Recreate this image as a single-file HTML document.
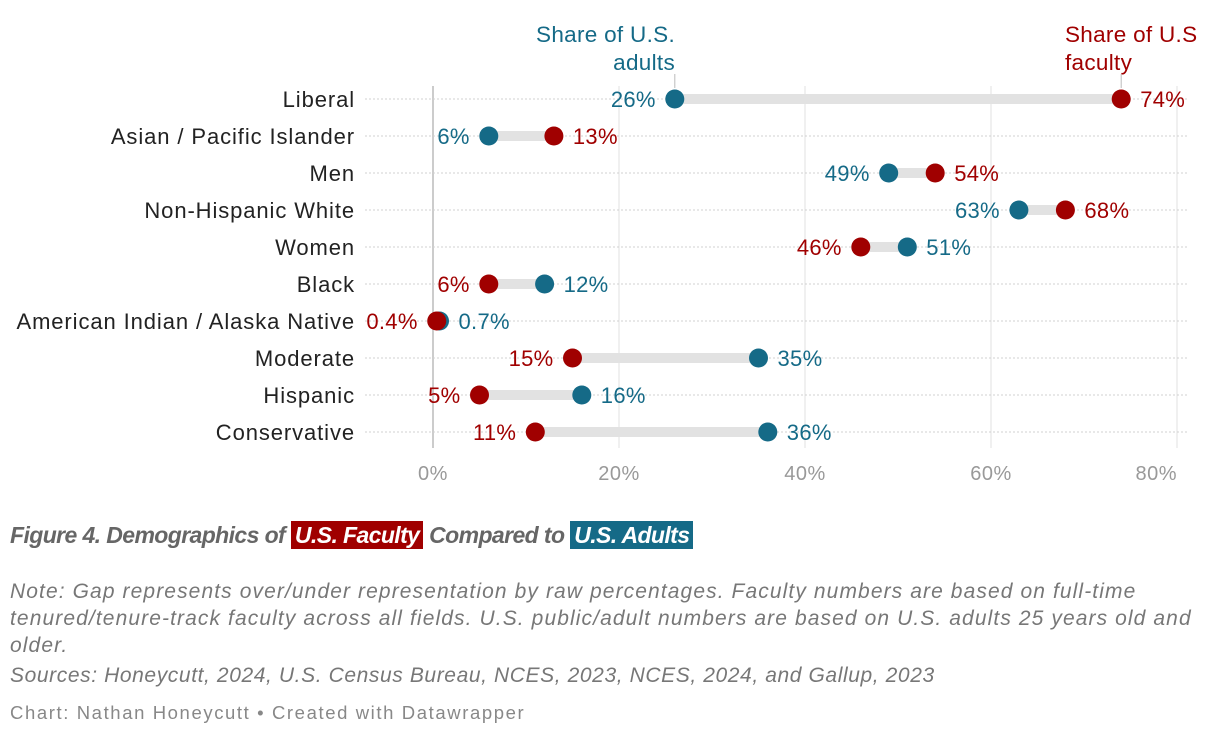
<!DOCTYPE html>
<html><head><meta charset="utf-8"><style>
body{margin:0;background:#fff;width:1220px;height:736px;overflow:hidden;font-family:"Liberation Sans",sans-serif}
.cap{position:absolute;left:10px;top:522px;font-family:"Liberation Sans Narrow","Liberation Sans",sans-serif;font-style:italic;font-weight:bold;font-size:23px;color:#666;letter-spacing:-0.6px}
.cap span{color:#fff;padding:1px 4px}
.note{position:absolute;left:10px;top:578px;width:1210px;font-style:italic;font-size:21px;line-height:27px;color:#777;letter-spacing:1.1px;white-space:nowrap}
.src{display:block;margin-top:3px;letter-spacing:0.6px}
.credit{position:absolute;left:10px;top:702px;font-size:18.5px;color:#888;letter-spacing:1.6px}
</style></head><body>
<svg id="chart" width="1220" height="500" style="position:absolute;left:0;top:0" font-family="Liberation Sans, sans-serif"></svg>
<div class="cap">Figure 4. Demographics of <span style="background:#a00000">U.S. Faculty</span> Compared to <span style="background:#156a87">U.S. Adults</span></div>
<div class="note">Note: Gap represents over/under representation by raw percentages. Faculty numbers are based on full-time<br>tenured/tenure-track faculty across all fields. U.S. public/adult numbers are based on U.S. adults 25 years old and<br>older.<span class="src">Sources: Honeycutt, 2024, U.S. Census Bureau, NCES, 2023, NCES, 2024, and Gallup, 2023</span></div>
<div class="credit">Chart: Nathan Honeycutt • Created with Datawrapper</div>
<script>
const categories=["Liberal","Asian / Pacific Islander","Men","Non-Hispanic White","Women","Black","American Indian / Alaska Native","Moderate","Hispanic","Conservative"];
const adults=[26,6,49,63,51,12,0.7,35,16,36];
const faculty=[74,13,54,68,46,6,0.4,15,5,11];
const adultLabels=["26%","6%","49%","63%","51%","12%","0.7%","35%","16%","36%"];
const facultyLabels=["74%","13%","54%","68%","46%","6%","0.4%","15%","5%","11%"];
const ticks=[0,20,40,60,80];
const tickLabels=["0%","20%","40%","60%","80%"];
const RED="#a00000",BLUE="#156a87";
const x=v=>433+v*9.3;
const y=i=>99+i*37;
const svg=document.getElementById('chart');
const NS="http://www.w3.org/2000/svg";
function mk(t,a,txt){const e=document.createElementNS(NS,t);for(const k in a)e.setAttribute(k,a[k]);if(txt!=null)e.textContent=txt;svg.appendChild(e);return e;}
ticks.forEach((t,i)=>{
 let l=mk('line',{x1:x(t),x2:x(t),y1:86,y2:448,stroke:t===0?'#bbb':'#e0e0e0','stroke-width':t===0?1.5:1});
 
 
 const last=i===ticks.length-1;
 let tx=mk('text',{x:x(t),y:480,'text-anchor':last?'end':'middle','font-size':20,fill:'#999','letter-spacing':0.5},tickLabels[i]);
 
 
});
categories.forEach((c,i)=>{
 const yy=y(i);
 let g=mk('line',{x1:365,x2:1188,y1:yy,y2:yy,stroke:'#d0d0d0','stroke-dasharray':'2,2'});
 
 
 let lab=mk('text',{x:355,y:yy+8,'text-anchor':'end','font-size':22,fill:'#222','letter-spacing':0.9},c);
 
 
 let bar=mk('line',{x1:x(adults[i]),x2:x(faculty[i]),y1:yy,y2:yy,stroke:'#e2e2e2','stroke-width':10});
 
 
 const aHi=adults[i]>=faculty[i];
 let ca=mk('circle',{cx:x(adults[i]),cy:yy,r:9.5,fill:BLUE});
 
 
 let cf=mk('circle',{cx:x(faculty[i]),cy:yy,r:9.5,fill:RED});
 
 
 let ta=mk('text',{x:x(adults[i])+(aHi?19:-19),y:yy+8,'text-anchor':aHi?'start':'end','font-size':22,fill:BLUE,'letter-spacing':0.3},adultLabels[i]);
 
 
 let tf=mk('text',{x:x(faculty[i])+(aHi?-19:19),y:yy+8,'text-anchor':aHi?'end':'start','font-size':22,fill:RED,'letter-spacing':0.3},facultyLabels[i]);
 
 
});
let h1=mk('text',{x:675,y:42,'text-anchor':'end','font-size':22.5,fill:BLUE,'letter-spacing':0.3},'Share of U.S.');


let h1b=mk('text',{x:675,y:70,'text-anchor':'end','font-size':22.5,fill:BLUE,'letter-spacing':0.3},'adults');


let k1=mk('line',{x1:x(adults[0]),x2:x(adults[0]),y1:74,y2:88,stroke:'#bbb'});


let h2=mk('text',{x:1065,y:42,'font-size':22.5,fill:RED,'letter-spacing':0.3},'Share of U.S');


let h2b=mk('text',{x:1065,y:70,'font-size':22.5,fill:RED,'letter-spacing':0.3},'faculty');


let k2=mk('line',{x1:x(faculty[0]),x2:x(faculty[0]),y1:74,y2:88,stroke:'#bbb'});


</script>
</body></html>
